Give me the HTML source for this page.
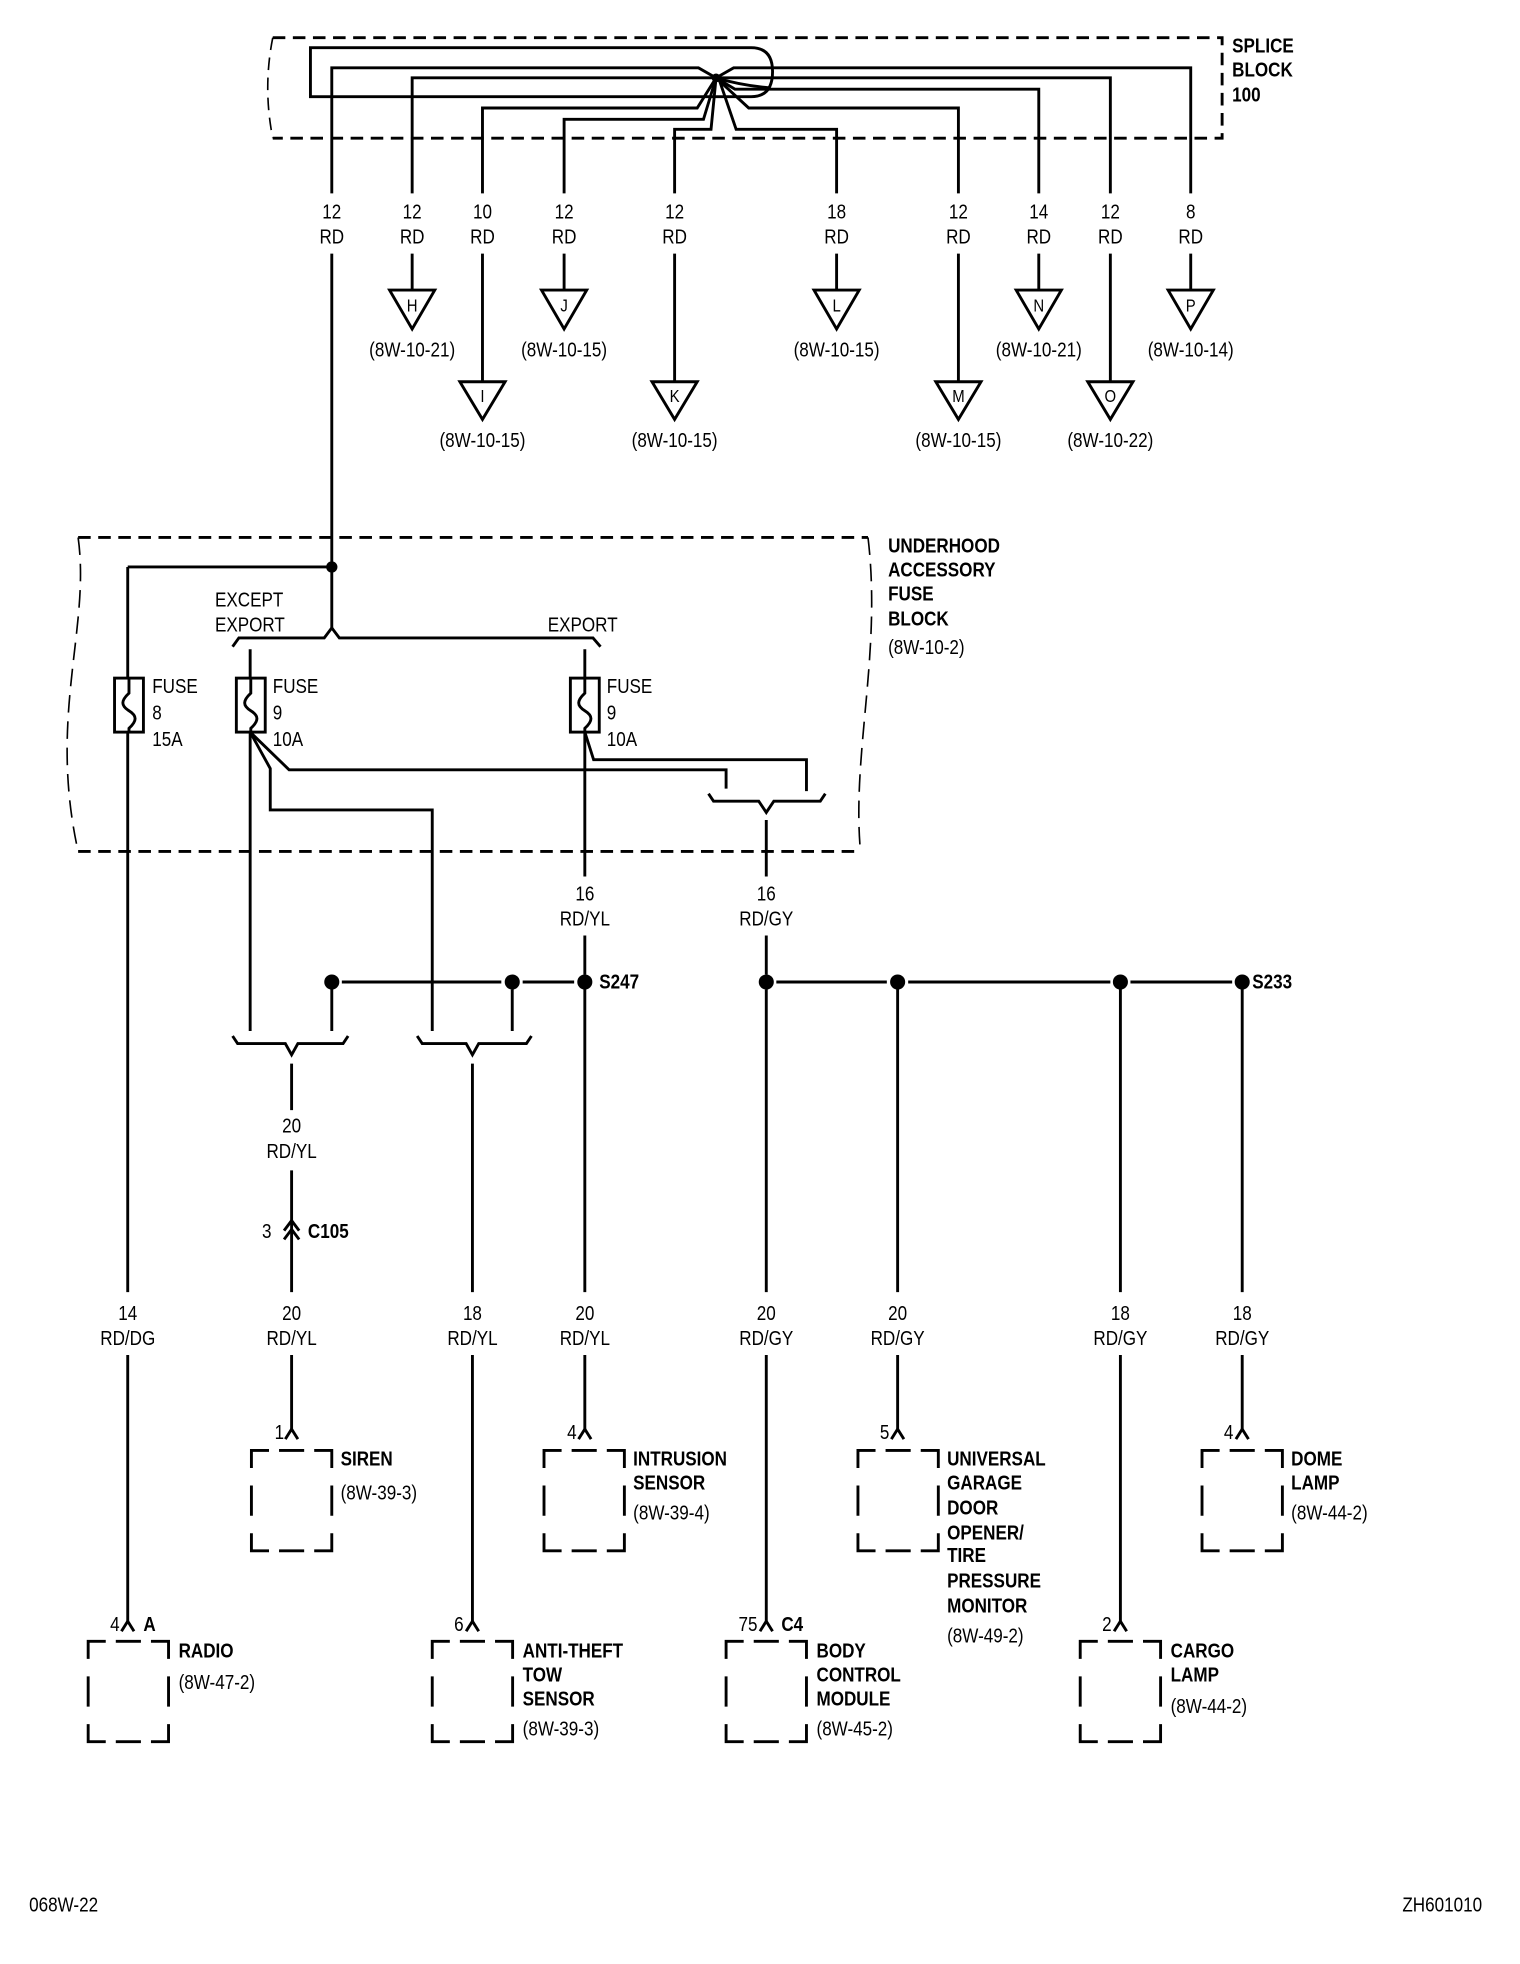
<!DOCTYPE html>
<html><head><meta charset="utf-8"><style>
html,body{margin:0;padding:0;background:#fff}
svg{display:block}
text{font-family:"Liberation Sans",sans-serif;font-size:16px;fill:#000}
.b{font-weight:bold}
.m{text-anchor:middle}
.e{text-anchor:end}
</style></head><body>
<svg width="1520" height="1964" viewBox="0 0 1210 1564" xmlns="http://www.w3.org/2000/svg">
<defs>
<path id="bx" d="M0 0 H64 V80 H0 Z" fill="none" stroke="#000" stroke-width="2.3" stroke-dasharray="14 8 20 8 28 14 24 14 28 8 20 8 28 14 24 14 14"/>
</defs>
<g fill="none" stroke="#000" stroke-width="2.3">
<path d="M217 30 H973 V110 H217" stroke-dasharray="10 6"/>
<path d="M217 30 Q209 70 217 110" stroke-dasharray="10 6" stroke-width="1.3"/>
<path d="M247 38 L598 38 Q615 38 615 57 Q615 77 598 77 L247 77 Z"/>
<path d="M570 62 Q590 68 613 70"/>
<path d="M264 154 L264 54 L556 54 L570 62"/>
<path d="M948 154 L948 54 L584 54 L570 62"/>
<path d="M328 154 L328 62 L884 62 L884 154"/>
<path d="M827 154 L827 71 L585 71 L570 62"/>
<path d="M384 154 L384 86 L555 86 L570 62"/>
<path d="M763 154 L763 86 L596 86 L570 62"/>
<path d="M449 154 L449 95 L560 95 L570 62"/>
<path d="M537 154 L537 103 L566 103 L570 62"/>
<path d="M666 154 L666 103 L586 103 L572 62"/>
<path d="M328 202 V231 M449 202 V231 M666 202 V231 M827 202 V231 M948 202 V231"/>
<path d="M384 202 V304 M537 202 V304 M763 202 V304 M884 202 V304"/>
<path d="M310 231 H346 L328 262 Z M431 231 H467 L449 262 Z M648 231 H684 L666 262 Z M809 231 H845 L827 262 Z M930 231 H966 L948 262 Z"/>
<path d="M366 304 H402 L384 334 Z M519 304 H555 L537 334 Z M745 304 H781 L763 334 Z M866 304 H902 L884 334 Z"/>
<path d="M264 202 V500"/>
<path d="M101.5 451.5 H264"/>
<path d="M101.5 451.5 V540"/>
<path d="M62 428 H691 M62 678 H685" stroke-dasharray="10 6"/>
<path d="M62 428 C72 500 38 570 62 678" stroke-dasharray="14 7" stroke-width="1.3"/>
<path d="M691 428 C702 520 678 600 685 678" stroke-dasharray="14 7" stroke-width="1.3"/>
<path d="M185 515 L190 508 L258 508 L264 500 L270 508 L472 508 L478 515"/>
<path d="M199 517 V540 M465.5 517 V540"/>
<rect x="91" y="540" width="23" height="43"/>
<rect x="188" y="540" width="23" height="43"/>
<rect x="454" y="540" width="23" height="43"/>
<path d="M102.5 540 V552 C96 558 96 562 102.5 566 C109 570 109 574 102.5 580 V583"/>
<path d="M199.5 540 V552 C193 558 193 562 199.5 566 C206 570 206 574 199.5 580 V583"/>
<path d="M465.5 540 V552 C459 558 459 562 465.5 566 C472 570 472 574 465.5 580 V583"/>
<path d="M101.5 583 V1029 M101.5 1079 V1293"/>
<path d="M199 583 V821"/>
<path d="M199 583 L215 612 L215 645 L344 645 L344 821"/>
<path d="M199 583 L230 613 L578 613 L578 628"/>
<path d="M465.5 583 L472.5 605 L642 605 L642 630"/>
<path d="M564 632 L568 638 L604 638 L610 647 L616 638 L653 638 L657 632"/>
<path d="M610 653 V698 M610 745 V776"/>
<path d="M465.5 583 V698 M465.5 745 V776"/>
<path d="M272 782 H399 M416 782 H457 M618 782 H706 M723 782 H884 M900 782 H981"/>
<path d="M264 788 V821 M407.7 788 V821"/>
<path d="M185 825 L189 831 L227 831 L232 840 L237 831 L273 831 L277 825"/>
<path d="M332 825 L336 831 L371 831 L376 840 L381 831 L419 831 L423 825"/>
<path d="M232 847 V884 M232 932 V986 M232 986 V1029"/>
<path d="M226 980 L232 972 L238 980 M226 987 L232 979 L238 987"/>
<path d="M376 847 V1029 M465.5 788 V1029 M610 788 V1029 M714.6 788 V1029 M892 788 V1029 M989 788 V1029"/>
<path d="M232 1079 V1140 M465.5 1079 V1140 M714.6 1079 V1140 M989 1079 V1140"/>
<path d="M376 1079 V1293 M610 1079 V1293 M892 1079 V1293"/>
<path d="M227 1146 L232 1138 L237 1146 M460.5 1146 L465.5 1138 L470.5 1146 M709.6 1146 L714.6 1138 L719.6 1146 M984 1146 L989 1138 L994 1146"/>
<path d="M96.5 1299 L101.5 1291 L106.5 1299 M371 1299 L376 1291 L381 1299 M605 1299 L610 1291 L615 1299 M887 1299 L892 1291 L897 1299"/>
</g>
<g fill="#000">
<circle cx="570" cy="62" r="3.5"/>
<circle cx="264" cy="451.5" r="4.5"/>
<circle cx="264" cy="782" r="6"/><circle cx="407.7" cy="782" r="6"/><circle cx="465.5" cy="782" r="6"/>
<circle cx="610" cy="782" r="6"/><circle cx="714.6" cy="782" r="6"/><circle cx="892" cy="782" r="6"/><circle cx="989" cy="782" r="6"/>
</g>
<use href="#bx" x="200" y="1155"/><use href="#bx" x="433" y="1155"/><use href="#bx" x="683" y="1155"/><use href="#bx" x="957" y="1155"/>
<use href="#bx" x="70" y="1307"/><use href="#bx" x="344" y="1307"/><use href="#bx" x="578" y="1307"/><use href="#bx" x="860" y="1307"/>

<g class="b">
<text transform="matrix(.85 0 0 1 981 42)">SPLICE</text>
<text transform="matrix(.85 0 0 1 981 61)">BLOCK</text>
<text transform="matrix(.85 0 0 1 981 81)">100</text>
</g>
<g class="m">
<text transform="matrix(.85 0 0 1 264 174)">12</text><text transform="matrix(.85 0 0 1 264 194)">RD</text>
<text transform="matrix(.85 0 0 1 328 174)">12</text><text transform="matrix(.85 0 0 1 328 194)">RD</text>
<text transform="matrix(.85 0 0 1 384 174)">10</text><text transform="matrix(.85 0 0 1 384 194)">RD</text>
<text transform="matrix(.85 0 0 1 449 174)">12</text><text transform="matrix(.85 0 0 1 449 194)">RD</text>
<text transform="matrix(.85 0 0 1 537 174)">12</text><text transform="matrix(.85 0 0 1 537 194)">RD</text>
<text transform="matrix(.85 0 0 1 666 174)">18</text><text transform="matrix(.85 0 0 1 666 194)">RD</text>
<text transform="matrix(.85 0 0 1 763 174)">12</text><text transform="matrix(.85 0 0 1 763 194)">RD</text>
<text transform="matrix(.85 0 0 1 827 174)">14</text><text transform="matrix(.85 0 0 1 827 194)">RD</text>
<text transform="matrix(.85 0 0 1 884 174)">12</text><text transform="matrix(.85 0 0 1 884 194)">RD</text>
<text transform="matrix(.85 0 0 1 948 174)">8</text><text transform="matrix(.85 0 0 1 948 194)">RD</text>
<text transform="matrix(.85 0 0 1 328 248)" style="font-size:14px">H</text>
<text transform="matrix(.85 0 0 1 449 248)" style="font-size:14px">J</text>
<text transform="matrix(.85 0 0 1 666 248)" style="font-size:14px">L</text>
<text transform="matrix(.85 0 0 1 827 248)" style="font-size:14px">N</text>
<text transform="matrix(.85 0 0 1 948 248)" style="font-size:14px">P</text>
<text transform="matrix(.85 0 0 1 384 320)" style="font-size:14px">I</text>
<text transform="matrix(.85 0 0 1 537 320)" style="font-size:14px">K</text>
<text transform="matrix(.85 0 0 1 763 320)" style="font-size:14px">M</text>
<text transform="matrix(.85 0 0 1 884 320)" style="font-size:14px">O</text>
<text transform="matrix(.85 0 0 1 328 284)">(8W-10-21)</text>
<text transform="matrix(.85 0 0 1 449 284)">(8W-10-15)</text>
<text transform="matrix(.85 0 0 1 666 284)">(8W-10-15)</text>
<text transform="matrix(.85 0 0 1 827 284)">(8W-10-21)</text>
<text transform="matrix(.85 0 0 1 948 284)">(8W-10-14)</text>
<text transform="matrix(.85 0 0 1 384 356)">(8W-10-15)</text>
<text transform="matrix(.85 0 0 1 537 356)">(8W-10-15)</text>
<text transform="matrix(.85 0 0 1 763 356)">(8W-10-15)</text>
<text transform="matrix(.85 0 0 1 884 356)">(8W-10-22)</text>
</g>
<g class="b">
<text transform="matrix(.85 0 0 1 707 440)">UNDERHOOD</text>
<text transform="matrix(.85 0 0 1 707 459)">ACCESSORY</text>
<text transform="matrix(.85 0 0 1 707 478)">FUSE</text>
<text transform="matrix(.85 0 0 1 707 498)">BLOCK</text>
</g>
<text transform="matrix(.85 0 0 1 707 521)">(8W-10-2)</text>
<text transform="matrix(.85 0 0 1 171 483)">EXCEPT</text>
<text transform="matrix(.85 0 0 1 171 503)">EXPORT</text>
<text transform="matrix(.85 0 0 1 436 503)">EXPORT</text>
<text transform="matrix(.85 0 0 1 121 552)">FUSE</text><text transform="matrix(.85 0 0 1 121 573)">8</text><text transform="matrix(.85 0 0 1 121 594)">15A</text>
<text transform="matrix(.85 0 0 1 217 552)">FUSE</text><text transform="matrix(.85 0 0 1 217 573)">9</text><text transform="matrix(.85 0 0 1 217 594)">10A</text>
<text transform="matrix(.85 0 0 1 483 552)">FUSE</text><text transform="matrix(.85 0 0 1 483 573)">9</text><text transform="matrix(.85 0 0 1 483 594)">10A</text>
<g class="m">
<text transform="matrix(.85 0 0 1 465.5 717)">16</text><text transform="matrix(.85 0 0 1 465.5 737)">RD/YL</text>
<text transform="matrix(.85 0 0 1 610 717)">16</text><text transform="matrix(.85 0 0 1 610 737)">RD/GY</text>
<text transform="matrix(.85 0 0 1 232 902)">20</text><text transform="matrix(.85 0 0 1 232 922)">RD/YL</text>
</g>
<text class="b" transform="matrix(.85 0 0 1 477 787)">S247</text>
<text class="b" transform="matrix(.85 0 0 1 997 787)">S233</text>
<text class="e" transform="matrix(.85 0 0 1 216 986)">3</text>
<text class="b" transform="matrix(.85 0 0 1 245 986)">C105</text>
<g class="m">
<text transform="matrix(.85 0 0 1 101.5 1051)">14</text><text transform="matrix(.85 0 0 1 101.5 1071)">RD/DG</text>
<text transform="matrix(.85 0 0 1 232 1051)">20</text><text transform="matrix(.85 0 0 1 232 1071)">RD/YL</text>
<text transform="matrix(.85 0 0 1 376 1051)">18</text><text transform="matrix(.85 0 0 1 376 1071)">RD/YL</text>
<text transform="matrix(.85 0 0 1 465.5 1051)">20</text><text transform="matrix(.85 0 0 1 465.5 1071)">RD/YL</text>
<text transform="matrix(.85 0 0 1 610 1051)">20</text><text transform="matrix(.85 0 0 1 610 1071)">RD/GY</text>
<text transform="matrix(.85 0 0 1 714.6 1051)">20</text><text transform="matrix(.85 0 0 1 714.6 1071)">RD/GY</text>
<text transform="matrix(.85 0 0 1 892 1051)">18</text><text transform="matrix(.85 0 0 1 892 1071)">RD/GY</text>
<text transform="matrix(.85 0 0 1 989 1051)">18</text><text transform="matrix(.85 0 0 1 989 1071)">RD/GY</text>
</g>
<g class="e">
<text transform="matrix(.85 0 0 1 226 1146)">1</text>
<text transform="matrix(.85 0 0 1 459 1146)">4</text>
<text transform="matrix(.85 0 0 1 708 1146)">5</text>
<text transform="matrix(.85 0 0 1 982 1146)">4</text>
<text transform="matrix(.85 0 0 1 95 1299)">4</text>
<text transform="matrix(.85 0 0 1 369 1299)">6</text>
<text transform="matrix(.85 0 0 1 603 1299)">75</text>
<text transform="matrix(.85 0 0 1 885 1299)">2</text>
</g>
<text class="b" transform="matrix(.85 0 0 1 114 1299)">A</text>
<text class="b" transform="matrix(.85 0 0 1 622 1299)">C4</text>
<text class="b" transform="matrix(.85 0 0 1 271 1167)">SIREN</text>
<text transform="matrix(.85 0 0 1 271 1194)">(8W-39-3)</text>
<text class="b" transform="matrix(.85 0 0 1 504 1167)">INTRUSION</text>
<text class="b" transform="matrix(.85 0 0 1 504 1186)">SENSOR</text>
<text transform="matrix(.85 0 0 1 504 1210)">(8W-39-4)</text>
<g class="b">
<text transform="matrix(.85 0 0 1 754 1167)">UNIVERSAL</text>
<text transform="matrix(.85 0 0 1 754 1186)">GARAGE</text>
<text transform="matrix(.85 0 0 1 754 1206)">DOOR</text>
<text transform="matrix(.85 0 0 1 754 1226)">OPENER/</text>
<text transform="matrix(.85 0 0 1 754 1244)">TIRE</text>
<text transform="matrix(.85 0 0 1 754 1264)">PRESSURE</text>
<text transform="matrix(.85 0 0 1 754 1284)">MONITOR</text>
</g>
<text transform="matrix(.85 0 0 1 754 1308)">(8W-49-2)</text>
<text class="b" transform="matrix(.85 0 0 1 1028 1167)">DOME</text>
<text class="b" transform="matrix(.85 0 0 1 1028 1186)">LAMP</text>
<text transform="matrix(.85 0 0 1 1028 1210)">(8W-44-2)</text>
<text class="b" transform="matrix(.85 0 0 1 142 1320)">RADIO</text>
<text transform="matrix(.85 0 0 1 142 1345)">(8W-47-2)</text>
<text class="b" transform="matrix(.85 0 0 1 416 1320)">ANTI-THEFT</text>
<text class="b" transform="matrix(.85 0 0 1 416 1339)">TOW</text>
<text class="b" transform="matrix(.85 0 0 1 416 1358)">SENSOR</text>
<text transform="matrix(.85 0 0 1 416 1382)">(8W-39-3)</text>
<text class="b" transform="matrix(.85 0 0 1 650 1320)">BODY</text>
<text class="b" transform="matrix(.85 0 0 1 650 1339)">CONTROL</text>
<text class="b" transform="matrix(.85 0 0 1 650 1358)">MODULE</text>
<text transform="matrix(.85 0 0 1 650 1382)">(8W-45-2)</text>
<text class="b" transform="matrix(.85 0 0 1 932 1320)">CARGO</text>
<text class="b" transform="matrix(.85 0 0 1 932 1339)">LAMP</text>
<text transform="matrix(.85 0 0 1 932 1364)">(8W-44-2)</text>
<text transform="matrix(.85 0 0 1 23 1522)">068W-22</text>
<text class="e" transform="matrix(.85 0 0 1 1180 1522)">ZH601010</text>
</svg>
</body></html>
